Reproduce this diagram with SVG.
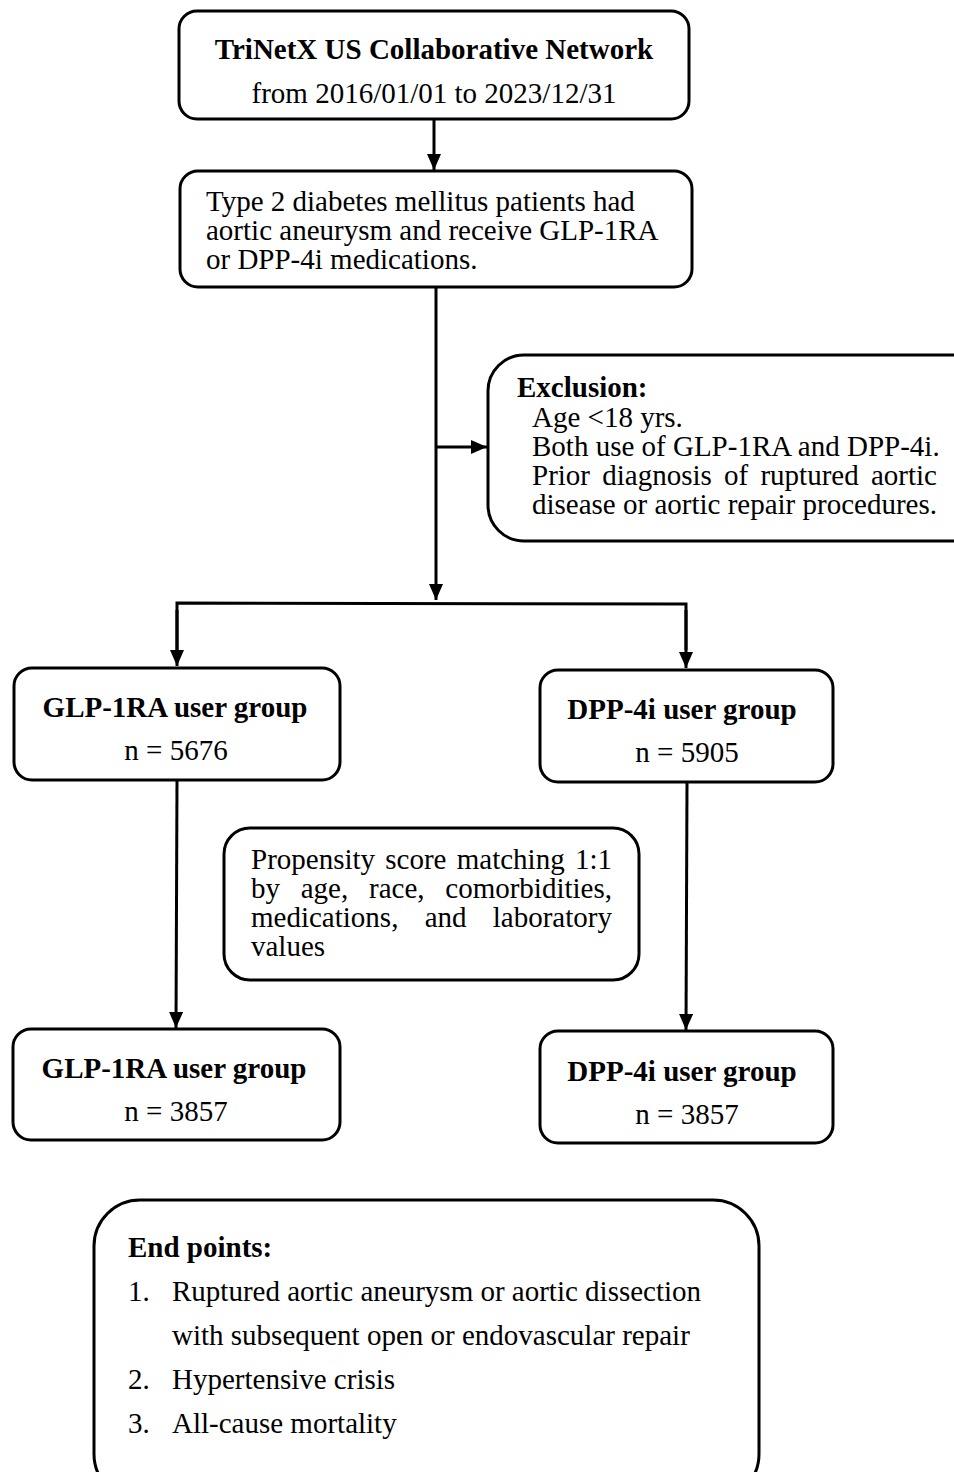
<svg xmlns="http://www.w3.org/2000/svg" width="954" height="1472" viewBox="0 0 954 1472">
<style>
.box{fill:#fff;stroke:#000;stroke-width:3}
.t{font-family:"Liberation Serif","Times New Roman",serif;font-size:29px;fill:#000}
.b{font-weight:bold}
.c{text-anchor:middle}
.ln{fill:none;stroke:#000;stroke-width:3}
</style>
<defs>
<marker id="ah" viewBox="0 0 16 14" refX="16" refY="7" markerWidth="16" markerHeight="14" markerUnits="userSpaceOnUse" orient="auto">
<path d="M0,0 L16,7 L0,14 Z" fill="#000"/>
</marker>
</defs>
<rect width="954" height="1472" fill="#fff"/>
<g id="connectors">
<line class="ln" x1="434" y1="120" x2="434" y2="170" marker-end="url(#ah)"/>
<line class="ln" x1="436" y1="288" x2="436" y2="600" marker-end="url(#ah)"/>
<line class="ln" x1="436" y1="447" x2="487" y2="447" marker-end="url(#ah)"/>
<polyline class="ln" points="177,650 177,603 686,604 686,650"/>
<line class="ln" x1="177" y1="610" x2="177" y2="666" marker-end="url(#ah)"/>
<line class="ln" x1="686" y1="610" x2="686" y2="668" marker-end="url(#ah)"/>
<line class="ln" x1="177" y1="780" x2="176" y2="1028" marker-end="url(#ah)"/>
<line class="ln" x1="687" y1="783" x2="686" y2="1030" marker-end="url(#ah)"/>
</g>
<g id="source">
<rect class="box" x="179" y="11" width="510" height="108" rx="18"/>
<text class="t b c" x="434" y="59">TriNetX US Collaborative Network</text>
<text class="t c" x="434" y="103">from 2016/01/01 to 2023/12/31</text>
</g>
<g id="population">
<rect class="box" x="180" y="171" width="512" height="116" rx="18"/>
<text class="t" x="206" y="211">Type 2 diabetes mellitus patients had</text>
<text class="t" x="206" y="240">aortic aneurysm and receive GLP-1RA</text>
<text class="t" x="206" y="269">or DPP-4i medications.</text>
</g>
<g id="exclusion">
<rect class="box" x="488" y="355" width="500" height="186" rx="36"/>
<text class="t b" x="517" y="397">Exclusion:</text>
<text class="t" x="532" y="427">Age &lt;18 yrs.</text>
<text class="t" x="532" y="456">Both use of GLP-1RA and DPP-4i.</text>
<text class="t" x="532" y="485" style="word-spacing:5px">Prior diagnosis of ruptured aortic</text>
<text class="t" x="532" y="514">disease or aortic repair procedures.</text>
</g>
<g id="glp-before">
<rect class="box" x="14" y="668" width="326" height="112" rx="18"/>
<text class="t b c" x="175" y="717">GLP-1RA user group</text>
<text class="t c" x="176" y="760">n = 5676</text>
</g>
<g id="dpp-before">
<rect class="box" x="540" y="670" width="293" height="112" rx="18"/>
<text class="t b c" x="682" y="719">DPP-4i user group</text>
<text class="t c" x="687" y="762">n = 5905</text>
</g>
<g id="matching">
<rect class="box" x="224" y="828" width="415" height="152" rx="26"/>
<text class="t" x="251" y="869" style="word-spacing:3px">Propensity score matching 1:1</text>
<text class="t" x="251" y="898" style="word-spacing:13.5px">by age, race, comorbidities,</text>
<text class="t" x="251" y="927" style="word-spacing:19px">medications, and laboratory</text>
<text class="t" x="251" y="956">values</text>
</g>
<g id="glp-after">
<rect class="box" x="13" y="1029" width="327" height="111" rx="18"/>
<text class="t b c" x="174" y="1078">GLP-1RA user group</text>
<text class="t c" x="176" y="1121">n = 3857</text>
</g>
<g id="dpp-after">
<rect class="box" x="540" y="1031" width="293" height="112" rx="18"/>
<text class="t b c" x="682" y="1081">DPP-4i user group</text>
<text class="t c" x="687" y="1124">n = 3857</text>
</g>
<g id="endpoints">
<rect class="box" x="94" y="1200" width="665" height="300" rx="46"/>
<text class="t b" x="128" y="1257">End points:</text>
<text class="t" x="128" y="1301">1.</text>
<text class="t" x="172" y="1301">Ruptured aortic aneurysm or aortic dissection</text>
<text class="t" x="172" y="1345">with subsequent open or endovascular repair</text>
<text class="t" x="128" y="1389">2.</text>
<text class="t" x="172" y="1389">Hypertensive crisis</text>
<text class="t" x="128" y="1433">3.</text>
<text class="t" x="172" y="1433">All-cause mortality</text>
</g>
</svg>
